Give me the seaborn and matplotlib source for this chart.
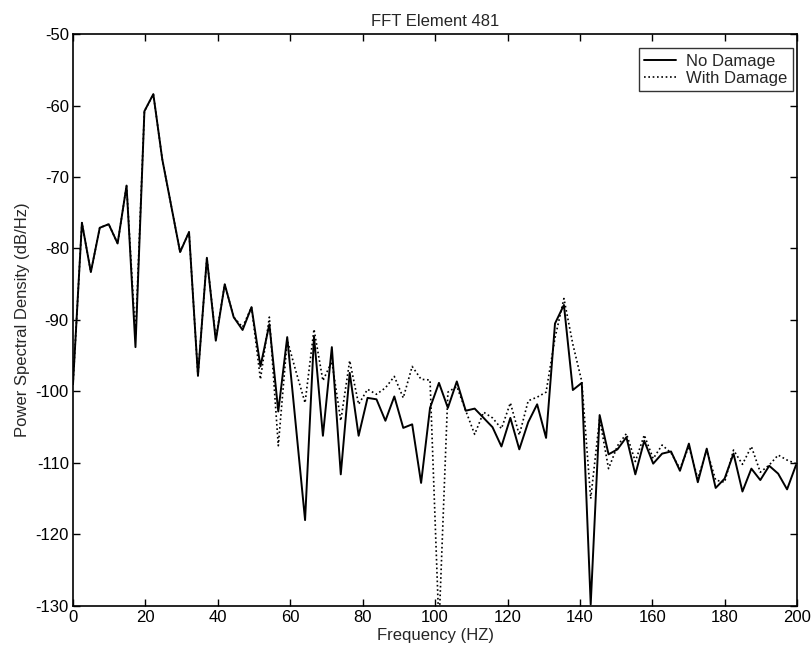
import numpy as np
import pandas as pd
import matplotlib
matplotlib.use("Agg")
import matplotlib.pyplot as plt
import seaborn as sns

# ---- data ----
freq_step = 2.465  # Hz between FFT bins
no_damage = [
    -99.0, -76.4, -83.3, -77.1, -76.6, -79.3, -71.2, -93.8, -60.8, -58.4,
    -67.5, -74.0, -80.5, -77.7, -97.8, -81.3, -92.9, -85.0, -89.6, -91.4,
    -88.2, -96.5, -90.6, -102.8, -92.4, -105.2, -118.0, -92.3, -106.2, -93.8,
    -111.6, -97.4, -106.2, -100.9, -101.1, -104.1, -100.7, -105.1, -104.6, -112.8,
    -102.3, -98.8, -102.3, -98.6, -102.7, -102.4, -103.7, -105.0, -107.7, -103.7,
    -108.1, -104.3, -101.8, -106.5, -90.5, -87.9, -99.8, -98.8, -129.8, -103.3,
    -108.8, -108.1, -106.4, -111.6, -106.9, -110.1, -108.7, -108.4, -111.1, -107.3,
    -112.7, -108.0, -113.5, -112.2, -108.7, -114.0, -110.8, -112.4, -110.4, -111.5,
    -113.7, -110.3,
]
with_damage = [
    -99.0, -76.4, -83.3, -77.1, -76.6, -79.3, -71.2, -92.2, -60.8, -58.4,
    -67.5, -74.0, -80.5, -77.7, -97.8, -81.3, -92.6, -85.0, -89.6, -91.0,
    -88.2, -98.3, -89.6, -107.6, -92.8, -97.3, -101.6, -91.3, -98.5, -95.8,
    -104.1, -95.7, -101.8, -99.7, -100.4, -99.5, -97.9, -100.9, -96.5, -98.3,
    -98.4, -133.0, -100.1, -99.3, -102.7, -106.0, -102.9, -103.7, -105.2, -101.6,
    -106.1, -101.3, -100.8, -100.1, -92.5, -87.0, -93.4, -98.6, -115.0, -103.8,
    -110.8, -107.6, -105.9, -109.8, -106.1, -109.4, -107.5, -108.6, -110.8, -107.7,
    -112.2, -108.2, -112.4, -112.7, -108.2, -110.2, -107.7, -111.3, -110.3, -108.9,
    -109.6, -110.1,
]
freqs = np.arange(len(no_damage)) * freq_step
series_names = ["No Damage", "With Damage"]
x_ticks = [0, 20, 40, 60, 80, 100, 120, 140, 160, 180, 200]
y_ticks = [-50, -60, -70, -80, -90, -100, -110, -120, -130]

df = pd.DataFrame({
    "freq": np.concatenate([freqs, freqs]),
    "psd": np.concatenate([no_damage, with_damage]),
    "series": [series_names[0]] * len(freqs) + [series_names[1]] * len(freqs),
})

sns.set_theme(style="ticks")
plt.rcParams["font.family"] = ["Liberation Sans", "DejaVu Sans"]
plt.rcParams["axes.unicode_minus"] = False

fig = plt.figure(figsize=(8.11, 6.55), dpi=100)
ax = fig.add_axes([0.090, 0.075, 0.893, 0.873])

sns.lineplot(data=df[df.series == series_names[0]], x="freq", y="psd", ax=ax,
             color="black", linewidth=1.4, label=series_names[0], sort=False)
sns.lineplot(data=df[df.series == series_names[1]], x="freq", y="psd", ax=ax,
             color="black", linewidth=1.2, linestyle=(0, (1, 1.6)),
             label=series_names[1], sort=False)

ax.set_xlim(0, 200)
ax.set_ylim(-130, -50)
ax.set_xticks(x_ticks)
ax.set_yticks(y_ticks)
ax.tick_params(direction="in", top=True, right=True, length=5, width=1,
               labelsize=12, colors="black", pad=3)
for sp in ax.spines.values():
    sp.set_visible(True)
    sp.set_color("black")
    sp.set_linewidth(1.2)

ax.set_title("FFT Element 481", fontsize=12, pad=6)
ax.set_xlabel("Frequency (HZ)", fontsize=12, labelpad=2)
ax.set_ylabel("Power Spectral Density (dB/Hz)", fontsize=12, labelpad=4)

leg = ax.legend(loc="upper right", bbox_to_anchor=(0.9945, 0.9755),
                borderaxespad=0, fontsize=12, frameon=True, fancybox=False,
                handlelength=1.9, borderpad=0.35, labelspacing=0.1,
                handletextpad=0.6)
leg.get_frame().set_edgecolor("black")
leg.get_frame().set_linewidth(1.0)

fig.savefig("out.png", dpi=100)
